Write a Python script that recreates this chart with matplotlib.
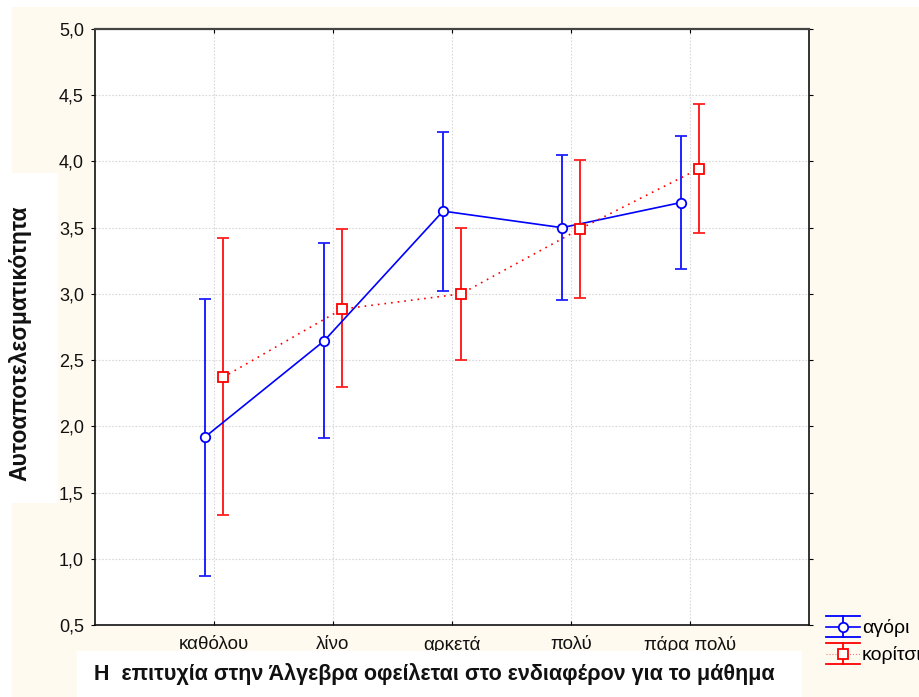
import matplotlib
matplotlib.use("Agg")
import matplotlib.pyplot as plt
from matplotlib.patches import Rectangle
from matplotlib.lines import Line2D
from matplotlib.legend_handler import HandlerBase
from matplotlib.ticker import FuncFormatter, MultipleLocator
import numpy as np

plt.rcParams['font.family'] = ['Liberation Sans', 'DejaVu Sans']

# data
categories = ["καθόλου", "λίνο", "αρκετά", "πολύ", "πάρα πολύ"]
boys_mean = [1.92, 2.645, 3.625, 3.50, 3.69]
boys_low = [0.87, 1.91, 3.02, 2.955, 3.185]
boys_high = [2.96, 3.385, 4.225, 4.05, 4.195]
girls_mean = [2.37, 2.885, 3.00, 3.49, 3.945]
girls_low = [1.33, 2.295, 2.50, 2.97, 3.46]
girls_high = [3.42, 3.49, 3.50, 4.01, 4.43]
series_labels = ["αγόρι", "κορίτσι"]

BLUE = "#0000ff"
RED = "#ff0000"
CREAM = "#fffaf0"
W, H = 920, 697


class ErrLegendHandler(HandlerBase):
    # errorbar-like legend key: wide caps, vertical stem, line with marker
    def create_artists(self, legend, orig_handle, xdescent, ydescent,
                       width, height, fontsize, trans):
        c = orig_handle.get_color()
        dotted = orig_handle.get_linestyle() != '-'
        x0, x1 = -xdescent, -xdescent + width
        y0, y1 = -ydescent, -ydescent + height
        ym = (y0 + y1) / 2
        xm = (x0 + x1) / 2
        arts = [
            Line2D([x0, x1], [y1, y1], color=c, lw=1.3),
            Line2D([x0, x1], [y0, y0], color=c, lw=1.3),
            Line2D([xm, xm], [y0, y1], color=c, lw=1.3),
            Line2D([x0, x1], [ym, ym], color=c, lw=0.8 if dotted else 1.2,
                   linestyle=':' if dotted else '-', alpha=0.5 if dotted else 1),
            Line2D([xm], [ym], color=c, marker=orig_handle.get_marker(), mfc='white',
                   mec=c, ms=orig_handle.get_markersize(), mew=1.3, linestyle='none'),
        ]
        for a in arts:
            a.set_transform(trans)
        return arts


def main():
    fig = plt.figure(figsize=(W / 100, H / 100), dpi=100)
    fig.patch.set_facecolor('white')

    # cream page, white boxes behind the axis titles
    fig.patches.append(Rectangle((12 / W, 0), 1, (H - 7) / H, transform=fig.transFigure,
                                 facecolor=CREAM, edgecolor='none', zorder=-10))
    fig.patches.append(Rectangle((0, (H - 503) / H), 58 / W, (503 - 173) / H, transform=fig.transFigure,
                                 facecolor='white', edgecolor='none', zorder=-5))
    fig.patches.append(Rectangle((77 / W, 0), (802 - 77) / W, (H - 651) / H, transform=fig.transFigure,
                                 facecolor='white', edgecolor='none', zorder=1.5))

    ax = fig.add_axes([95 / W, (H - 625) / H, (809 - 95) / W, (625 - 29) / H])
    ax.set_facecolor('white')

    x = np.arange(1, len(categories) + 1)
    off = 0.075

    bm = np.array(boys_mean)
    gm = np.array(girls_mean)
    eb1 = ax.errorbar(x - off, bm, yerr=[bm - np.array(boys_low), np.array(boys_high) - bm],
                      fmt='o-', color=BLUE, ecolor='#2020ff', lw=1.2, elinewidth=1.4, capsize=4.5,
                      capthick=1.4, ms=6.8, mfc='white', mec=BLUE, mew=1.3, zorder=3)
    eb2 = ax.errorbar(x + off, gm, yerr=[gm - np.array(girls_low), np.array(girls_high) - gm],
                      fmt='s', linestyle=(0, (1, 3)), color=RED, ecolor='#ff2020', lw=1.2, elinewidth=1.4,
                      capsize=4.5, capthick=1.4, ms=6.8, mfc='white', mec=RED, mew=1.3, zorder=3)

    ax.set_xlim(0, 6)
    ax.set_ylim(0.5, 5.0)
    ax.set_xticks(x)
    ax.set_xticklabels(categories, fontsize=13.5, color='#111111')
    ax.yaxis.set_major_locator(MultipleLocator(0.5))
    ax.yaxis.set_major_formatter(FuncFormatter(lambda v, p: f"{v:.1f}".replace('.', ',')))
    ax.tick_params(axis='y', labelsize=13, labelcolor='#111111', direction='out', length=3, pad=5,
                   right=True)
    ax.tick_params(axis='x', direction='in', length=3, pad=8, top=True)
    ax.grid(True, color='#d8d8d8', linestyle=(0, (1.5, 1.5)), linewidth=0.8)
    ax.set_axisbelow(True)
    for s in ax.spines.values():
        s.set_color('#111111')
        s.set_linewidth(1.2)
    ax.spines['top'].set_color('#444444')
    ax.spines['top'].set_linewidth(1.6)

    fig.text(20 / W, 1 - 343 / H, "Αυτοαποτελεσματικότητα", rotation=90, ha='center', va='center',
             fontsize=16.5, fontweight='bold', color='#111111')
    fig.text(434 / W, 1 - 674 / H, "Η  επιτυχία στην Άλγεβρα οφείλεται στο ενδιαφέρον για το μάθημα",
             ha='center', va='center', fontsize=15.5, fontweight='bold', color='#111111')

    handles = [eb1.lines[0], eb2.lines[0]]
    ax.legend(handles, series_labels, loc='upper left', bbox_to_anchor=(826 / W, 1 - 616 / H),
              bbox_transform=fig.transFigure, frameon=False, fontsize=14, borderpad=0,
              borderaxespad=0, handlelength=1.75, handleheight=1.3, handletextpad=0.1,
              labelspacing=0.3,
              handler_map={Line2D: ErrLegendHandler()})

    fig.savefig("out.png", dpi=100, facecolor=fig.get_facecolor())


if __name__ == '__main__':
    main()
